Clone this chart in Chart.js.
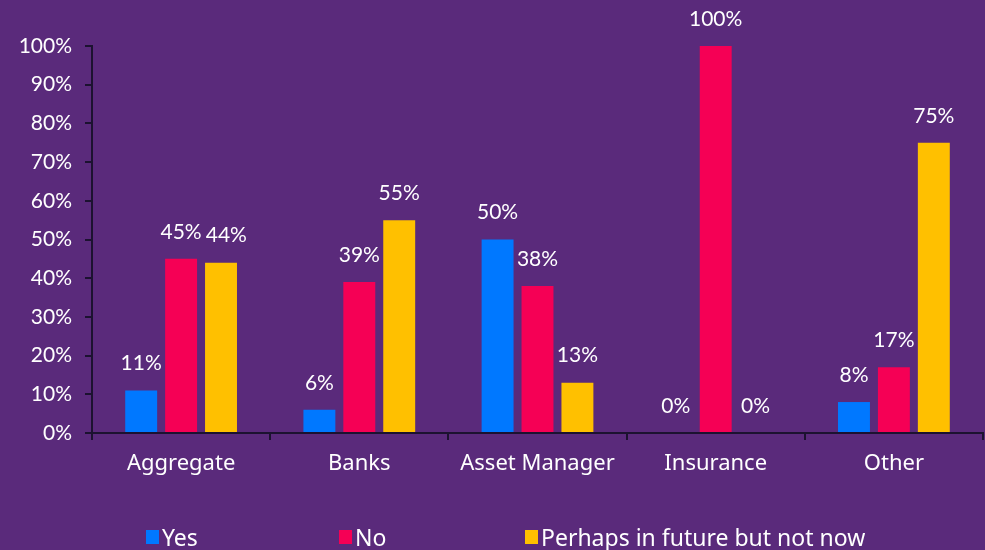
<!DOCTYPE html>
<html>
<head>
<meta charset="utf-8">
<script src="https://cdn.jsdelivr.net/npm/chart.js@4.4.0/dist/chart.umd.min.js"></script>
<style>
  html, body { margin: 0; padding: 0; background: #5a2a7b; }
  #wrap { position: relative; width: 985px; height: 550px; background: #5a2a7b; overflow: hidden; }
  #legend { position: absolute; left: 0; top: 524px; width: 985px; height: 26px; font-family: 'Noto Sans', sans-serif; font-size: 23px; color: #ffffff; }
  .item { position: absolute; top: 0; display: flex; align-items: center; height: 26px; white-space: nowrap; }
  .box { width: 13px; height: 14px; margin-right: 3px; }
</style>
</head>
<body>
<div id="wrap">
  <canvas id="c" width="985" height="550"></canvas>
  <div id="legend"></div>
</div>
<script>
const categories = ["Aggregate", "Banks", "Asset Manager", "Insurance", "Other"];
const seriesNames = ["Yes", "No", "Perhaps in future but not now"];
const yesValues = [11, 6, 50, 0, 8];
const noValues = [45, 39, 38, 100, 17];
const perhapsValues = [44, 55, 13, 0, 75];
const yTicks = [0, 10, 20, 30, 40, 50, 60, 70, 80, 90, 100];
const seriesColors = ["#0078ff", "#f50055", "#ffc000"];
const legendLeft = [146, 339, 525];

const axisColor = "#1c1230";
const fontFamily = "Lato, 'Noto Sans', sans-serif";

const valueLabels = {
  id: "valueLabels",
  afterDatasetsDraw(chart) {
    const ctx = chart.ctx;
    ctx.save();
    ctx.fillStyle = "#ffffff";
    ctx.font = "21px " + fontFamily;
    ctx.textAlign = "center";
    ctx.textBaseline = "middle";
    const n = chart.data.labels.length;
    for (let j = 0; j < n; j++) {
      let prev = null;
      chart.data.datasets.forEach((ds, i) => {
        const bar = chart.getDatasetMeta(i).data[j];
        const text = ds.data[j] + "%";
        const w = ctx.measureText(text).width;
        let x = bar.x;
        const y = bar.y - 27;
        if (prev && Math.abs(prev.y - y) < 20 && x - w / 2 < prev.right + 4) {
          x = prev.right + 4 + w / 2;
        }
        ctx.fillText(text, x, y);
        prev = { right: x + w / 2, y: y };
      });
    }
    ctx.restore();
  }
};

new Chart(document.getElementById("c"), {
  type: "bar",
  data: {
    labels: categories,
    datasets: [
      { label: seriesNames[0], data: yesValues, backgroundColor: seriesColors[0] },
      { label: seriesNames[1], data: noValues, backgroundColor: seriesColors[1] },
      { label: seriesNames[2], data: perhapsValues, backgroundColor: seriesColors[2] }
    ]
  },
  options: {
    responsive: false,
    animation: false,
    devicePixelRatio: 1,
    layout: { padding: { top: 46, right: 2, bottom: 57, left: 0 } },
    datasets: { bar: { categoryPercentage: 0.672, barPercentage: 0.8 } },
    plugins: {
      legend: { display: false },
      tooltip: { enabled: false }
    },
    scales: {
      x: {
        grid: { display: true, drawOnChartArea: false, drawTicks: true, tickLength: 7, color: axisColor, lineWidth: 2, offset: true },
        border: { display: true, color: axisColor, width: 2 },
        ticks: { color: "#ffffff", font: { family: "'Noto Sans', sans-serif", size: 22 }, padding: 11 },
        afterFit(scale) { scale.height = 60; }
      },
      y: {
        min: 0, max: 100,
        afterBuildTicks(scale) { scale.ticks = yTicks.map(v => ({ value: v })); },
        grid: { display: true, drawOnChartArea: false, drawTicks: true, tickLength: 7, color: axisColor, lineWidth: 2 },
        border: { display: true, color: axisColor, width: 2 },
        ticks: { color: "#ffffff", font: { family: fontFamily, size: 21 }, padding: 13, callback: v => v + "%" },
        afterFit(scale) { scale.width = 92; }
      }
    }
  },
  plugins: [valueLabels]
});

const legend = document.getElementById("legend");
seriesNames.forEach((name, i) => {
  const item = document.createElement("div");
  item.className = "item";
  item.style.left = legendLeft[i] + "px";
  const box = document.createElement("span");
  box.className = "box";
  box.style.background = seriesColors[i];
  const txt = document.createElement("span");
  txt.textContent = name;
  item.appendChild(box);
  item.appendChild(txt);
  legend.appendChild(item);
});
</script>
</body>
</html>
